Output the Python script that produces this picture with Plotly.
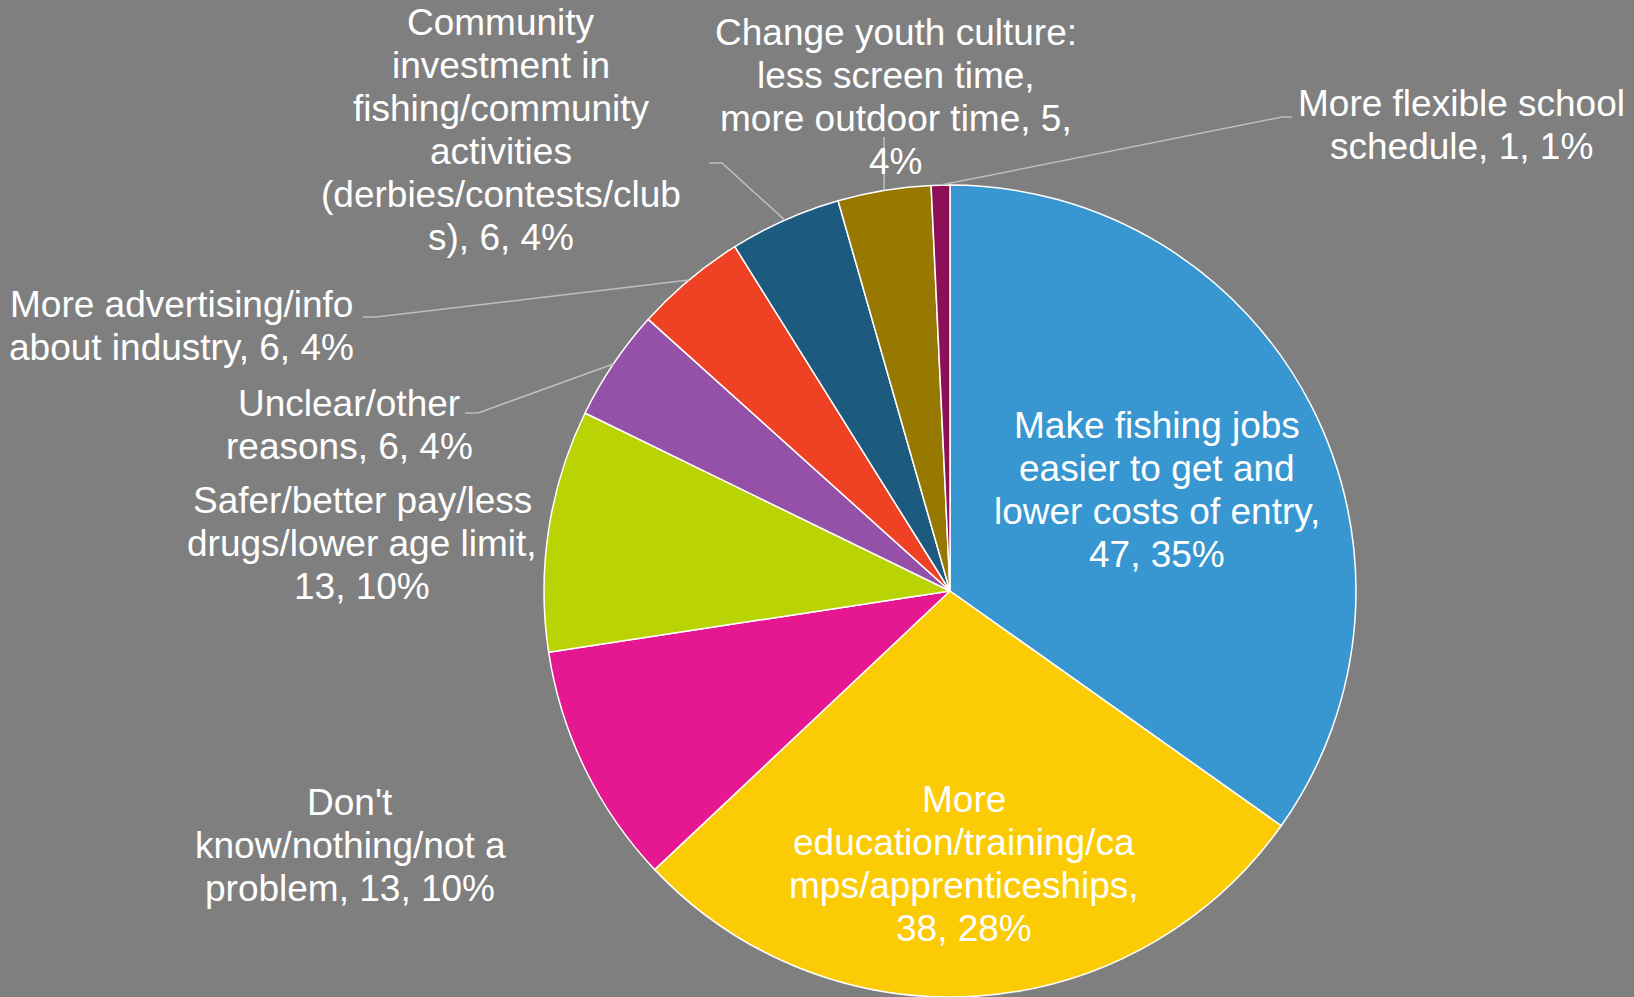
import math
import plotly.graph_objects as go

# Survey responses: what would encourage youth into fishing
categories = [
    "Make fishing jobs easier to get and lower costs of entry",
    "More education/training/camps/apprenticeships",
    "Don't know/nothing/not a problem",
    "Safer/better pay/less drugs/lower age limit",
    "Unclear/other reasons",
    "More advertising/info about industry",
    "Community investment in fishing/community activities (derbies/contests/clubs)",
    "Change youth culture: less screen time, more outdoor time",
    "More flexible school schedule",
]
counts = [47, 38, 13, 13, 6, 6, 6, 5, 1]
colors = ["#3897D0", "#FBCB05", "#E51892", "#BAD305", "#9551A7",
          "#EF4123", "#1D5A80", "#977800", "#8C0F57"]

# Wrapped label layouts; {v} = count, {p} = percent
label_templates = [
    "Make fishing jobs<br>easier to get and<br>lower costs of entry,<br>{v}, {p}",
    "More<br>education/training/ca<br>mps/apprenticeships,<br>{v}, {p}",
    "Don't<br>know/nothing/not a<br>problem, {v}, {p}",
    "Safer/better pay/less<br>drugs/lower age limit,<br>{v}, {p}",
    "Unclear/other<br>reasons, {v}, {p}",
    "More advertising/info<br>about industry, {v}, {p}",
    "Community<br>investment in<br>fishing/community<br>activities<br>(derbies/contests/club<br>s), {v}, {p}",
    "Change youth culture:<br>less screen time,<br>more outdoor time, {v},<br>{p}",
    "More flexible school<br>schedule, {v}, {p}",
]

# Label block centres (pixels from top-left)
label_pos = [(1157, 490), (964, 864), (350, 845), (362, 543), (349, 425),
             (181, 326), (501, 130), (896, 97), (1461, 125)]
# Leader-line elbows for outside labels: index -> list of points
leader_elbows = {
    4: [(478, 413), (465, 413)],
    5: [(376, 317), (363, 317)],
    6: [(722, 163), (709, 163)],
    7: [(884, 137)],
    8: [(1282, 117), (1292, 117)],
}

W, H = 1634, 997
CX, CY, R = 950, 591, 406   # pie centre and radius in pixels
FONT_SIZE = 37
LINE_GAP = 43               # pixels between text lines


def px(x, y):
    return x / W, 1 - y / H


total = sum(counts)
fig = go.Figure(go.Pie(
    labels=categories,
    values=counts,
    sort=False,
    direction="clockwise",
    rotation=0,
    marker=dict(colors=colors, line=dict(color="white", width=1.5)),
    textinfo="none",
    showlegend=False,
    domain=dict(x=[(CX - R) / W, (CX + R) / W], y=[1 - (CY + R) / H, 1 - (CY - R) / H]),
))

annotations = []
shapes = []
cum = 0
for i, (cat, v) in enumerate(zip(categories, counts)):
    pct = f"{round(100 * v / total)}%"
    lines = label_templates[i].format(v=v, p=pct).split("<br>")
    lx, ly = label_pos[i]
    n = len(lines)
    for k, line in enumerate(lines):
        x, y = px(lx, ly + (k - (n - 1) / 2) * LINE_GAP)
        annotations.append(dict(
            x=x, y=y, xref="paper", yref="paper", text=line, showarrow=False,
            xanchor="center", yanchor="middle", align="center",
            font=dict(family="Liberation Sans, Arial, sans-serif", size=FONT_SIZE, color="white"),
        ))
    mid = (cum + v / 2) / total * 2 * math.pi
    cum += v
    if i in leader_elbows:
        sx = CX + R * math.sin(mid)
        sy = CY - R * math.cos(mid)
        pts = [(sx, sy)] + leader_elbows[i]
        path = "M " + " L ".join(f"{px(a, b)[0]},{px(a, b)[1]}" for a, b in pts)
        shapes.append(dict(type="path", xref="paper", yref="paper", path=path,
                           line=dict(color="#BFBFBF", width=1.5)))

fig.update_layout(
    width=W, height=H,
    margin=dict(l=0, r=0, t=0, b=0),
    paper_bgcolor="#7F7F7F",
    plot_bgcolor="#7F7F7F",
    annotations=annotations,
    shapes=shapes,
)

fig.write_html("out.html")
